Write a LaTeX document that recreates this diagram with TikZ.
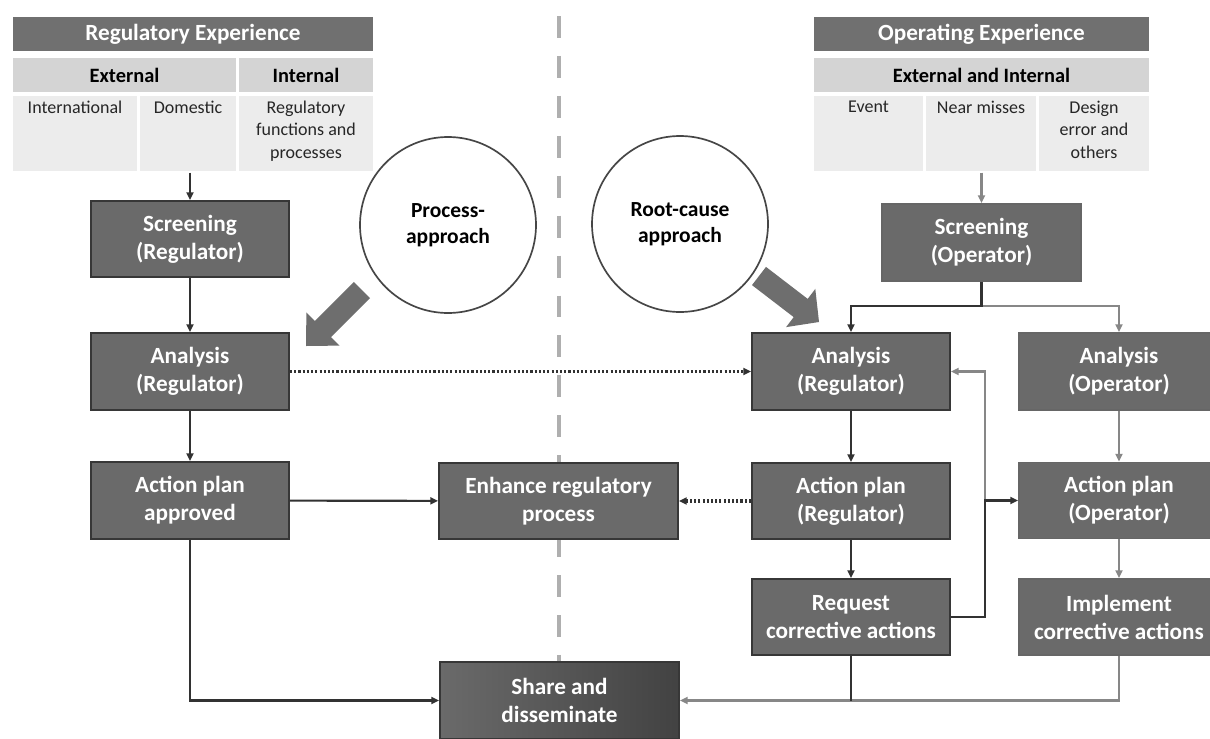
\documentclass[tikz,border=0pt]{standalone}
\usepackage{fontspec}
\setmainfont{Carlito}
\usetikzlibrary{arrows.meta,calc}
\definecolor{boxfill}{RGB}{106,106,106}
\definecolor{bordc}{RGB}{55,55,55}
\definecolor{hdrfill}{RGB}{112,112,112}
\definecolor{subfill}{RGB}{212,212,212}
\definecolor{cellfill}{RGB}{236,236,236}
\definecolor{darkln}{RGB}{50,50,50}
\definecolor{grayln}{RGB}{135,135,135}
\definecolor{circc}{RGB}{70,70,70}
\definecolor{blkfill}{RGB}{110,110,110}
\definecolor{divc}{RGB}{175,175,175}
\newcommand{\bxfont}{\fontsize{16.5}{20}\selectfont\bfseries}
\newcommand{\hdfont}{\fontsize{16.5}{20}\selectfont\bfseries}
\newcommand{\sbfont}{\fontsize{14.5}{17}\selectfont\bfseries}
\newcommand{\clfont}{\fontsize{12.8}{16}\selectfont}
\newcommand{\crfont}{\fontsize{15.3}{18.4}\selectfont\bfseries}
\tikzset{
 mbox/.style={rectangle, draw=bordc, line width=1.4pt, fill=boxfill, text=white, font=\bxfont, align=center, inner sep=0pt},
 sz/.style n args={2}{minimum width=#1*0.025cm, minimum height=#2*0.025cm},
 hdr/.style={rectangle, fill=hdrfill, text=white, font=\hdfont, inner sep=0pt, draw=white, line width=0.8pt},
 sub/.style={rectangle, fill=subfill, text=black, font=\sbfont, inner sep=0pt, draw=white, line width=0.8pt},
 cell/.style={rectangle, fill=cellfill, inner sep=0pt, draw=white, line width=0.8pt},
 celltxt/.style={anchor=north, font=\clfont, align=center, inner sep=0pt, text=black!85},
 arr/.style={draw=darkln, line width=1.5pt, -{Triangle[length=5.5pt,width=5pt]}},
 arrg/.style={draw=grayln, line width=1.5pt, -{Triangle[length=5.5pt,width=5pt]}},
 ln/.style={draw=darkln, line width=1.5pt},
 dotarr/.style={draw=darkln, line width=2.2pt, dash pattern=on 1.5pt off 1.5pt, -{Triangle[length=5.5pt,width=5pt]}},
 apc/.style={circle, draw=circc, line width=1.2pt, fill=white, font=\crfont, align=center, inner sep=0pt, minimum size=176*0.025cm},
 blk/.style={fill=blkfill, draw=none},
 divider/.style={draw=divc, line width=3pt, dash pattern=on 15.6pt off 12.8pt},
}
\begin{document}
\begin{tikzpicture}[x=0.025cm,y=-0.025cm]
\useasboundingbox (0,0) rectangle (1210,738);
\clip (0,0) rectangle (1210,738);
\fill[white] (0,0) rectangle (1210,738);

% divider
\draw[divider] (559,16) -- (559,760);

% ---- left table
\node[hdr, sz={362}{36}] (regH) at (193,34) {Regulatory Experience};
\node[sub, sz={225}{36}] (ext) at (124.5,75) {External};
\node[sub, sz={136}{36}] (int) at (306,75) {Internal};
\node[cell, sz={126}{77}] (intl) at (75,133.5) {};
\node[cell, sz={98}{77}] (dom) at (188,133.5) {};
\node[cell, sz={136}{77}] (regf) at (306,133.5) {};
\node[celltxt] (intlT) at ($(intl.north)+(0,6)$) {International};
\node[celltxt] (domT) at ($(dom.north)+(0,6)$) {Domestic};
\node[celltxt] (regfT) at ($(regf.north)+(0,6)$) {Regulatory\\functions and\\processes};

% ---- right table
\node[hdr, sz={337}{36}] (opH) at (981.5,34) {Operating Experience};
\node[sub, sz={337}{36}] (extint) at (981.5,75) {External and Internal};
\node[cell, sz={111}{77}] (ev) at (868.5,133.5) {};
\node[cell, sz={112}{77}] (nm) at (981,133.5) {};
\node[cell, sz={112}{77}] (de) at (1094,133.5) {};
\node[celltxt] (evT) at ($(ev.north)+(0,6)$) {Event};
\node[celltxt] (nmT) at ($(nm.north)+(0,6)$) {Near misses};
\node[celltxt] (deT) at ($(de.north)+(0,6)$) {Design\\error and\\others};

% ---- circles
\node[apc] (procC) at (448,225) {Process-\\approach};
\node[apc] (rootC) at (680,224) {Root-cause\\approach};

% ---- block arrows
\fill[blk] (353.9,281.9) -- (314.9,320.9) -- (306.4,312.4) -- (306,346) -- (339.6,345.6) -- (331.1,337.1) -- (370.1,298.1) -- cycle;
\fill[blk] (766,266.9) -- (807.7,298.9) -- (815.3,288.9) -- (819,322) -- (786.1,327.1) -- (793.7,317.1) -- (752,285.1) -- cycle;

% ---- boxes
\node[mbox, sz={198}{76}] (scrR) at (190,239) {Screening\\(Regulator)};
\node[mbox, sz={198}{77}] (anaRL) at (190,371.5) {Analysis\\(Regulator)};
\node[mbox, sz={198}{77}] (apA) at (190,500.5) {Action plan\\approved};
\node[mbox, sz={239}{76}] (enh) at (558.5,501) {Enhance regulatory\\process};
\node[mbox, sz={239}{77}, left color=boxfill, right color=black!74, draw=bordc] (share) at (559.5,700.5) {Share and\\disseminate};
\node[mbox, sz={198}{77}] (anaRR) at (851,371.5) {Analysis\\(Regulator)};
\node[mbox, sz={198}{76}] (apR) at (851,501) {Action plan\\(Regulator)};
\node[mbox, sz={198}{76}] (req) at (851,617) {Request\\corrective actions};
\node[mbox, sz={199}{77}, draw=black!60] (scrO) at (981.5,242.5) {Screening\\(Operator)};
\node[mbox, sz={200}{77}, draw=black!60] (anaO) at (1119,371.5) {Analysis\\(Operator)};
\node[mbox, sz={200}{76}, draw=black!60] (apO) at (1119,500.5) {Action plan\\(Operator)};
\node[mbox, sz={200}{76}, draw=black!60] (imp) at (1119,617) {Implement\\corrective actions};

% ---- connectors, left side
\draw[arr] (scrR.north |- dom.south) -- (scrR.north);
\draw[arr] (scrR) -- (anaRL);
\draw[arr] (anaRL) -- (apA);
\draw[arr] (apA) -- (enh);
\draw[arr] (apA.south) |- (share.west);
\draw[dotarr] (anaRL) -- (anaRR);
\draw[dotarr] (apR) -- (enh);

% ---- connectors, right side
\draw[arrg] (scrO.north |- nm.south) -- (scrO.north);
\coordinate (sj) at (981.5,306);
\draw[arrg] (sj) -| (anaO.north);
\draw[arr] (scrO.south) -- (sj) -| (anaRR.north);
\draw[arrg] (anaO) -- (apO);
\draw[arrg] (apO) -- (imp);
\draw[arr] (anaRR) -- (apR);
\draw[arr] (apR) -- (req);
\coordinate (fb) at (985,500.5);
\draw[arrg] (fb) |- (anaRR.east);
\draw[arr] (req.east) -| (fb) -- (apO.west);
\draw[arrg] (imp.south) |- (share.east);
\draw[ln] (req.south) -- (req.south |- share.east);
\end{tikzpicture}
\end{document}
